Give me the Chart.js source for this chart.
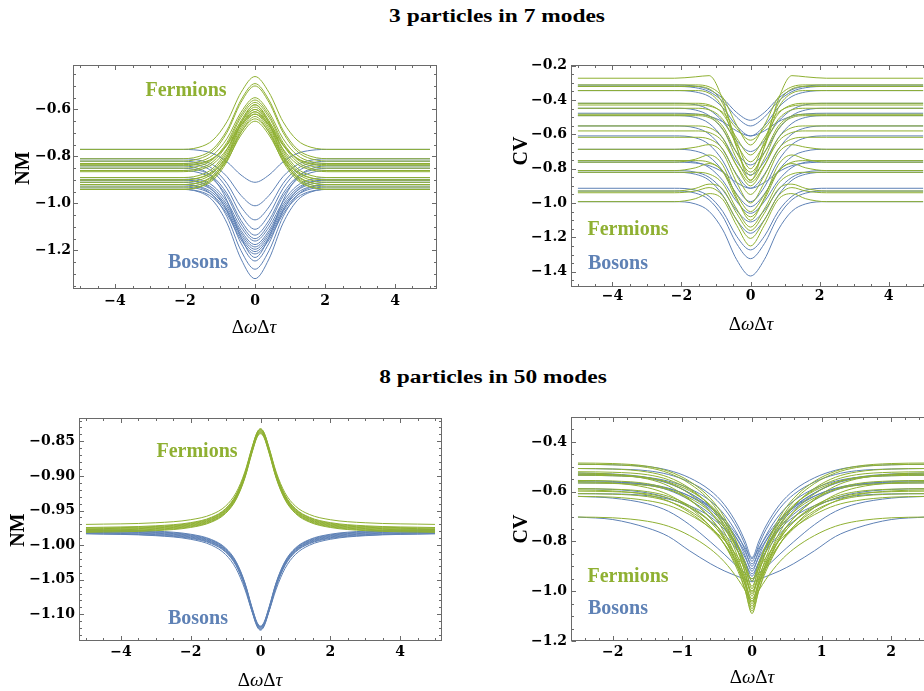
<!DOCTYPE html>
<html><head><meta charset="utf-8">
<script src="https://cdn.jsdelivr.net/npm/chart.js@4.4.0/dist/chart.umd.min.js"></script>
<style>
html,body{margin:0;padding:0;background:#fff;}
body{width:924px;height:691px;position:relative;overflow:hidden;}
canvas{position:absolute;}
.t{position:absolute;white-space:nowrap;line-height:1;font-family:"Liberation Serif","Times New Roman",serif;transform:translate(-50%,-50%);}
.b{font-weight:bold;}
.rot{transform:translate(-50%,-50%) rotate(-90deg);}
.ttl{font-size:18px;transform:translate(-50%,-50%) scaleX(1.3);}
.ax{font-size:19px;}
.fe{color:#8fb032;font-size:20px;font-weight:bold;}
.bo{color:#5e81b5;font-size:20px;font-weight:bold;}
</style></head>
<body>
<canvas id="c1" width="450" height="270" style="left:0px;top:50px"></canvas>
<canvas id="c2" width="440" height="270" style="left:500px;top:50px"></canvas>
<canvas id="c3" width="455" height="270" style="left:0px;top:400px"></canvas>
<canvas id="c4" width="445" height="270" style="left:500px;top:400px"></canvas>

<div class="t b ttl" style="left:497px;top:16px">3 particles in 7 modes</div>
<div class="t b ttl" style="left:493px;top:377px">8 particles in 50 modes</div>

<div class="t b ax rot" style="left:22px;top:168px;font-size:20px">NM</div>
<div class="t ax" style="left:254px;top:326px">Δ<i>ω</i>Δ<i>τ</i></div>
<div class="t b ax rot" style="left:520px;top:151px;font-size:20px">CV</div>
<div class="t ax" style="left:751px;top:323px">Δ<i>ω</i>Δ<i>τ</i></div>
<div class="t b ax rot" style="left:17px;top:530px;font-size:20px">NM</div>
<div class="t ax" style="left:260px;top:679px">Δ<i>ω</i>Δ<i>τ</i></div>
<div class="t b ax rot" style="left:520px;top:529px;font-size:20px">CV</div>
<div class="t ax" style="left:752px;top:676px">Δ<i>ω</i>Δ<i>τ</i></div>

<div class="t fe" style="left:186px;top:89px">Fermions</div>
<div class="t bo" style="left:198px;top:261px">Bosons</div>
<div class="t fe" style="left:628px;top:228px">Fermions</div>
<div class="t bo" style="left:618px;top:262px">Bosons</div>
<div class="t fe" style="left:197px;top:450px">Fermions</div>
<div class="t bo" style="left:198px;top:617px">Bosons</div>
<div class="t fe" style="left:628px;top:575px">Fermions</div>
<div class="t bo" style="left:618px;top:607px">Bosons</div>

<script>
// ---------- Panel 1: NM, 3 particles in 7 modes ----------
const p1X = [-5,-2.2,-1.6,-1.2,-0.8,-0.4,0,0.4,0.8,1.2,1.6,2.2,5];
const p1Fermions = [
 [-0.77,-0.77,-0.761,-0.73,-0.652,-0.528,-0.46,-0.528,-0.652,-0.73,-0.761,-0.77,-0.77],
 [-0.81,-0.81,-0.8,-0.768,-0.688,-0.56,-0.49,-0.56,-0.688,-0.768,-0.8,-0.81,-0.81],
 [-0.82,-0.82,-0.81,-0.778,-0.698,-0.57,-0.5,-0.57,-0.698,-0.778,-0.81,-0.82,-0.82],
 [-0.83,-0.83,-0.822,-0.794,-0.724,-0.612,-0.55,-0.612,-0.724,-0.794,-0.822,-0.83,-0.83],
 [-0.85,-0.85,-0.841,-0.812,-0.74,-0.624,-0.56,-0.624,-0.74,-0.812,-0.841,-0.85,-0.85],
 [-0.86,-0.86,-0.851,-0.822,-0.75,-0.634,-0.57,-0.634,-0.75,-0.822,-0.851,-0.86,-0.86],
 [-0.89,-0.89,-0.881,-0.85,-0.772,-0.648,-0.58,-0.648,-0.772,-0.85,-0.881,-0.89,-0.89],
 [-0.9,-0.9,-0.891,-0.86,-0.782,-0.658,-0.59,-0.658,-0.782,-0.86,-0.891,-0.9,-0.9],
 [-0.91,-0.91,-0.901,-0.87,-0.792,-0.668,-0.6,-0.668,-0.792,-0.87,-0.901,-0.91,-0.91],
 [-0.92,-0.92,-0.911,-0.88,-0.802,-0.678,-0.61,-0.678,-0.802,-0.88,-0.911,-0.92,-0.92],
 [-0.93,-0.93,-0.921,-0.89,-0.812,-0.688,-0.62,-0.688,-0.812,-0.89,-0.921,-0.93,-0.93],
 [-0.94,-0.94,-0.931,-0.9,-0.822,-0.698,-0.63,-0.698,-0.822,-0.9,-0.931,-0.94,-0.94],
 [-0.9,-0.9,-0.892,-0.866,-0.801,-0.697,-0.64,-0.697,-0.801,-0.866,-0.892,-0.9,-0.9],
 [-0.92,-0.92,-0.912,-0.885,-0.817,-0.709,-0.65,-0.709,-0.817,-0.885,-0.912,-0.92,-0.92],
 [-0.84,-0.84,-0.833,-0.809,-0.749,-0.653,-0.6,-0.653,-0.749,-0.809,-0.833,-0.84,-0.84],
 [-0.94,-0.94,-0.929,-0.893,-0.803,-0.659,-0.58,-0.659,-0.803,-0.893,-0.929,-0.94,-0.94],
 [-0.835,-0.835,-0.829,-0.807,-0.753,-0.667,-0.62,-0.667,-0.753,-0.807,-0.829,-0.835,-0.835],
 [-0.865,-0.865,-0.857,-0.832,-0.768,-0.666,-0.61,-0.666,-0.768,-0.832,-0.857,-0.865,-0.865]
];
const p1Bosons = [
 [-0.77,-0.77,-0.774,-0.788,-0.823,-0.879,-0.91,-0.879,-0.823,-0.788,-0.774,-0.77,-0.77],
 [-0.81,-0.81,-0.816,-0.836,-0.886,-0.966,-1.01,-0.966,-0.886,-0.836,-0.816,-0.81,-0.81],
 [-0.82,-0.82,-0.828,-0.853,-0.915,-1.015,-1.07,-1.015,-0.915,-0.853,-0.828,-0.82,-0.82],
 [-0.83,-0.83,-0.838,-0.866,-0.936,-1.048,-1.11,-1.048,-0.936,-0.866,-0.838,-0.83,-0.83],
 [-0.85,-0.85,-0.859,-0.887,-0.958,-1.072,-1.135,-1.072,-0.958,-0.887,-0.859,-0.85,-0.85],
 [-0.86,-0.86,-0.869,-0.898,-0.97,-1.086,-1.15,-1.086,-0.97,-0.898,-0.869,-0.86,-0.86],
 [-0.89,-0.89,-0.898,-0.925,-0.993,-1.101,-1.16,-1.101,-0.993,-0.925,-0.898,-0.89,-0.89],
 [-0.9,-0.9,-0.908,-0.936,-1.005,-1.115,-1.175,-1.115,-1.005,-0.936,-0.908,-0.9,-0.9],
 [-0.91,-0.91,-0.918,-0.946,-1.015,-1.125,-1.185,-1.125,-1.015,-0.946,-0.918,-0.91,-0.91],
 [-0.92,-0.92,-0.928,-0.956,-1.025,-1.135,-1.195,-1.135,-1.025,-0.956,-0.928,-0.92,-0.92],
 [-0.93,-0.93,-0.938,-0.966,-1.035,-1.145,-1.205,-1.145,-1.035,-0.966,-0.938,-0.93,-0.93],
 [-0.94,-0.94,-0.948,-0.976,-1.045,-1.155,-1.215,-1.155,-1.045,-0.976,-0.948,-0.94,-0.94],
 [-0.84,-0.84,-0.852,-0.891,-0.988,-1.144,-1.23,-1.144,-0.988,-0.891,-0.852,-0.84,-0.84],
 [-0.9,-0.9,-0.91,-0.945,-1.031,-1.169,-1.245,-1.169,-1.031,-0.945,-0.91,-0.9,-0.9],
 [-0.92,-0.92,-0.931,-0.967,-1.057,-1.201,-1.28,-1.201,-1.057,-0.967,-0.931,-0.92,-0.92],
 [-0.94,-0.94,-0.951,-0.989,-1.084,-1.236,-1.32,-1.236,-1.084,-0.989,-0.951,-0.94,-0.94]
];
const p1XTicks = [-4,-2,0,2,4];
const p1YTicks = [-1.2,-1.0,-0.8,-0.6];

// ---------- Panel 2: CV, 3 particles in 7 modes ----------
const p2X = [-5,-2.2,-1.6,-1.2,-0.8,-0.4,0,0.4,0.8,1.2,1.6,2.2,5];
const p2Fermions = [
 [-0.273,-0.273,-0.265,-0.258,-0.4,-0.67,-0.87,-0.67,-0.4,-0.258,-0.265,-0.273,-0.273],
 [-0.321,-0.321,-0.321,-0.335,-0.422,-0.642,-0.8,-0.642,-0.422,-0.335,-0.321,-0.321,-0.321],
 [-0.429,-0.429,-0.429,-0.435,-0.472,-0.566,-0.634,-0.566,-0.472,-0.435,-0.429,-0.429,-0.429],
 [-0.419,-0.419,-0.419,-0.428,-0.482,-0.621,-0.72,-0.621,-0.482,-0.428,-0.419,-0.419,-0.419],
 [-0.448,-0.448,-0.448,-0.457,-0.514,-0.657,-0.76,-0.657,-0.514,-0.457,-0.448,-0.448,-0.448],
 [-0.483,-0.483,-0.483,-0.493,-0.554,-0.709,-0.82,-0.709,-0.554,-0.493,-0.483,-0.483,-0.483],
 [-0.491,-0.491,-0.491,-0.502,-0.57,-0.742,-0.866,-0.742,-0.57,-0.502,-0.491,-0.491,-0.491],
 [-0.551,-0.551,-0.551,-0.561,-0.624,-0.785,-0.9,-0.785,-0.624,-0.561,-0.551,-0.551,-0.551],
 [-0.617,-0.617,-0.617,-0.627,-0.687,-0.84,-0.95,-0.84,-0.687,-0.627,-0.617,-0.617,-0.617],
 [-0.687,-0.687,-0.675,-0.66,-0.71,-0.88,-1.0,-0.88,-0.71,-0.66,-0.675,-0.687,-0.687],
 [-0.753,-0.753,-0.753,-0.762,-0.815,-0.952,-1.05,-0.952,-0.815,-0.762,-0.753,-0.753,-0.753],
 [-0.762,-0.762,-0.745,-0.72,-0.78,-0.97,-1.1,-0.97,-0.78,-0.72,-0.745,-0.762,-0.762],
 [-0.821,-0.821,-0.821,-0.831,-0.888,-1.035,-1.14,-1.035,-0.888,-0.831,-0.821,-0.821,-0.821],
 [-0.93,-0.93,-0.915,-0.89,-0.92,-1.06,-1.16,-1.06,-0.92,-0.89,-0.915,-0.93,-0.93],
 [-0.94,-0.94,-0.93,-0.91,-0.96,-1.1,-1.206,-1.1,-0.96,-0.91,-0.93,-0.94,-0.94],
 [-0.992,-0.992,-0.975,-0.945,-0.98,-1.13,-1.25,-1.13,-0.98,-0.945,-0.975,-0.992,-0.992],
 [-0.58,-0.58,-0.58,-0.589,-0.643,-0.781,-0.88,-0.781,-0.643,-0.589,-0.58,-0.58,-0.58],
 [-0.345,-0.345,-0.345,-0.36,-0.449,-0.677,-0.84,-0.677,-0.449,-0.36,-0.345,-0.345,-0.345],
 [-0.312,-0.312,-0.312,-0.323,-0.386,-0.547,-0.662,-0.547,-0.386,-0.323,-0.312,-0.312,-0.312],
 [-0.811,-0.811,-0.795,-0.77,-0.82,-0.98,-1.08,-0.98,-0.82,-0.77,-0.795,-0.811,-0.811]
];
const p2Bosons = [
 [-0.313,-0.313,-0.319,-0.34,-0.391,-0.473,-0.518,-0.473,-0.391,-0.34,-0.319,-0.313,-0.313],
 [-0.321,-0.321,-0.328,-0.351,-0.408,-0.5,-0.551,-0.5,-0.408,-0.351,-0.328,-0.321,-0.321],
 [-0.345,-0.345,-0.353,-0.379,-0.445,-0.551,-0.609,-0.551,-0.445,-0.379,-0.353,-0.345,-0.345],
 [-0.419,-0.419,-0.427,-0.456,-0.526,-0.638,-0.7,-0.638,-0.526,-0.456,-0.427,-0.419,-0.419],
 [-0.448,-0.448,-0.458,-0.491,-0.573,-0.705,-0.778,-0.705,-0.573,-0.491,-0.458,-0.448,-0.448],
 [-0.491,-0.491,-0.501,-0.536,-0.622,-0.76,-0.836,-0.76,-0.622,-0.536,-0.501,-0.491,-0.491],
 [-0.551,-0.551,-0.562,-0.598,-0.689,-0.834,-0.914,-0.834,-0.689,-0.598,-0.562,-0.551,-0.551],
 [-0.609,-0.609,-0.62,-0.659,-0.755,-0.908,-0.992,-0.908,-0.755,-0.659,-0.62,-0.609,-0.609],
 [-0.687,-0.687,-0.697,-0.73,-0.814,-0.948,-1.021,-0.948,-0.814,-0.73,-0.697,-0.687,-0.687],
 [-0.753,-0.753,-0.762,-0.793,-0.87,-0.992,-1.06,-0.992,-0.87,-0.793,-0.762,-0.753,-0.753],
 [-0.811,-0.811,-0.82,-0.85,-0.925,-1.044,-1.11,-1.044,-0.925,-0.85,-0.82,-0.811,-0.811],
 [-0.821,-0.821,-0.832,-0.867,-0.956,-1.098,-1.176,-1.098,-0.956,-0.867,-0.832,-0.821,-0.821],
 [-0.914,-0.914,-0.925,-0.961,-1.05,-1.194,-1.273,-1.194,-1.05,-0.961,-0.925,-0.914,-0.914],
 [-0.93,-0.93,-0.942,-0.981,-1.08,-1.237,-1.324,-1.237,-1.08,-0.981,-0.942,-0.93,-0.93],
 [-0.992,-0.992,-1.005,-1.048,-1.157,-1.33,-1.425,-1.33,-1.157,-1.048,-1.005,-0.992,-0.992],
 [-0.477,-0.477,-0.481,-0.494,-0.527,-0.58,-0.609,-0.58,-0.527,-0.494,-0.481,-0.477,-0.477],
 [-0.762,-0.762,-0.767,-0.782,-0.82,-0.881,-0.914,-0.881,-0.82,-0.782,-0.767,-0.762,-0.762]
];
const p2XTicks = [-4,-2,0,2,4];
const p2YTicks = [-1.4,-1.2,-1.0,-0.8,-0.6,-0.4,-0.2];

// ---------- Panel 3: NM, 8 particles in 50 modes ----------
const p3X = [-5,-3,-2,-1.4,-1,-0.7,-0.45,-0.25,-0.1,0,0.1,0.25,0.45,0.7,1,1.4,2,3,5];
const p3Fermions = [
 [-0.9701,-0.9677,-0.9633,-0.9557,-0.9436,-0.9243,-0.8945,-0.8599,-0.8373,-0.832,-0.8373,-0.8599,-0.8945,-0.9243,-0.9436,-0.9557,-0.9633,-0.9677,-0.9701],
 [-0.9746,-0.9721,-0.9675,-0.9597,-0.9472,-0.9273,-0.8965,-0.8608,-0.8375,-0.832,-0.8375,-0.8608,-0.8965,-0.9273,-0.9472,-0.9597,-0.9675,-0.9721,-0.9746],
 [-0.9756,-0.9731,-0.9685,-0.9607,-0.9482,-0.9283,-0.8975,-0.8618,-0.8385,-0.833,-0.8385,-0.8618,-0.8975,-0.9283,-0.9482,-0.9607,-0.9685,-0.9731,-0.9756],
 [-0.9766,-0.9741,-0.9695,-0.9617,-0.9492,-0.9293,-0.8985,-0.8628,-0.8395,-0.834,-0.8395,-0.8628,-0.8985,-0.9293,-0.9492,-0.9617,-0.9695,-0.9741,-0.9766],
 [-0.9776,-0.9751,-0.9705,-0.9627,-0.9502,-0.9303,-0.8995,-0.8638,-0.8405,-0.835,-0.8405,-0.8638,-0.8995,-0.9303,-0.9502,-0.9627,-0.9705,-0.9751,-0.9776],
 [-0.9786,-0.9761,-0.9715,-0.9637,-0.9512,-0.9313,-0.9005,-0.8648,-0.8415,-0.836,-0.8415,-0.8648,-0.9005,-0.9313,-0.9512,-0.9637,-0.9715,-0.9761,-0.9786],
 [-0.9796,-0.9771,-0.9725,-0.9647,-0.9522,-0.9323,-0.9015,-0.8658,-0.8425,-0.837,-0.8425,-0.8658,-0.9015,-0.9323,-0.9522,-0.9647,-0.9725,-0.9771,-0.9796],
 [-0.9806,-0.9781,-0.9735,-0.9657,-0.9532,-0.9333,-0.9025,-0.8668,-0.8435,-0.838,-0.8435,-0.8668,-0.9025,-0.9333,-0.9532,-0.9657,-0.9735,-0.9781,-0.9806],
 [-0.9816,-0.9791,-0.9745,-0.9667,-0.9542,-0.9343,-0.9035,-0.8678,-0.8445,-0.839,-0.8445,-0.8678,-0.9035,-0.9343,-0.9542,-0.9667,-0.9745,-0.9791,-0.9816]
];
const p3Bosons = [
 [-0.9774,-0.9798,-0.9843,-0.992,-1.0042,-1.0237,-1.0538,-1.0888,-1.1116,-1.117,-1.1116,-1.0888,-1.0538,-1.0237,-1.0042,-0.992,-0.9843,-0.9798,-0.9774],
 [-0.9784,-0.9808,-0.9853,-0.993,-1.0052,-1.0247,-1.0548,-1.0898,-1.1126,-1.118,-1.1126,-1.0898,-1.0548,-1.0247,-1.0052,-0.993,-0.9853,-0.9808,-0.9784],
 [-0.9794,-0.9818,-0.9863,-0.994,-1.0062,-1.0257,-1.0558,-1.0908,-1.1136,-1.119,-1.1136,-1.0908,-1.0558,-1.0257,-1.0062,-0.994,-0.9863,-0.9818,-0.9794],
 [-0.9804,-0.9828,-0.9873,-0.995,-1.0072,-1.0267,-1.0568,-1.0918,-1.1146,-1.12,-1.1146,-1.0918,-1.0568,-1.0267,-1.0072,-0.995,-0.9873,-0.9828,-0.9804],
 [-0.9814,-0.9838,-0.9883,-0.996,-1.0082,-1.0277,-1.0578,-1.0928,-1.1156,-1.121,-1.1156,-1.0928,-1.0578,-1.0277,-1.0082,-0.996,-0.9883,-0.9838,-0.9814],
 [-0.9824,-0.9848,-0.9893,-0.997,-1.0092,-1.0287,-1.0588,-1.0938,-1.1166,-1.122,-1.1166,-1.0938,-1.0588,-1.0287,-1.0092,-0.997,-0.9893,-0.9848,-0.9824],
 [-0.9834,-0.9858,-0.9903,-0.998,-1.0102,-1.0297,-1.0598,-1.0948,-1.1176,-1.123,-1.1176,-1.0948,-1.0598,-1.0297,-1.0102,-0.998,-0.9903,-0.9858,-0.9834],
 [-0.9836,-0.9864,-0.9916,-1.0002,-1.0136,-1.034,-1.0635,-1.0947,-1.1136,-1.118,-1.1136,-1.0947,-1.0635,-1.034,-1.0136,-1.0002,-0.9916,-0.9864,-0.9836]
];
const p3XTicks = [-4,-2,0,2,4];
const p3YTicks = [-1.10,-1.05,-1.00,-0.95,-0.90,-0.85];

// ---------- Panel 4: CV, 8 particles in 50 modes ----------
const p4X = [-2.5,-2,-1.5,-1.2,-0.9,-0.6,-0.4,-0.2,-0.1,0,0.1,0.2,0.4,0.6,0.9,1.2,1.5,2,2.5];
const p4Fermions = [
 [-0.485,-0.487,-0.498,-0.518,-0.558,-0.626,-0.702,-0.818,-0.899,-0.99,-0.899,-0.818,-0.702,-0.626,-0.558,-0.518,-0.498,-0.487,-0.485],
 [-0.49,-0.492,-0.503,-0.525,-0.567,-0.638,-0.718,-0.84,-0.925,-1.02,-0.925,-0.84,-0.718,-0.638,-0.567,-0.525,-0.503,-0.492,-0.49],
 [-0.507,-0.509,-0.521,-0.542,-0.586,-0.659,-0.741,-0.865,-0.952,-1.05,-0.952,-0.865,-0.741,-0.659,-0.586,-0.542,-0.521,-0.509,-0.507],
 [-0.525,-0.53,-0.549,-0.577,-0.63,-0.706,-0.777,-0.877,-0.938,-1.0,-0.938,-0.877,-0.777,-0.706,-0.63,-0.577,-0.549,-0.53,-0.525],
 [-0.53,-0.532,-0.544,-0.565,-0.608,-0.681,-0.762,-0.886,-0.973,-1.07,-0.973,-0.886,-0.762,-0.681,-0.608,-0.565,-0.544,-0.532,-0.53],
 [-0.534,-0.536,-0.545,-0.562,-0.596,-0.653,-0.717,-0.815,-0.883,-0.96,-0.883,-0.815,-0.717,-0.653,-0.596,-0.562,-0.545,-0.536,-0.534],
 [-0.555,-0.557,-0.568,-0.59,-0.633,-0.705,-0.785,-0.908,-0.994,-1.09,-0.994,-0.908,-0.785,-0.705,-0.633,-0.59,-0.568,-0.557,-0.555],
 [-0.56,-0.565,-0.584,-0.612,-0.663,-0.739,-0.809,-0.908,-0.969,-1.03,-0.969,-0.908,-0.809,-0.739,-0.663,-0.612,-0.584,-0.565,-0.56],
 [-0.565,-0.567,-0.575,-0.592,-0.625,-0.681,-0.744,-0.839,-0.905,-0.98,-0.905,-0.839,-0.744,-0.681,-0.625,-0.592,-0.575,-0.567,-0.565],
 [-0.588,-0.59,-0.6,-0.619,-0.656,-0.72,-0.791,-0.9,-0.975,-1.06,-0.975,-0.9,-0.791,-0.72,-0.656,-0.619,-0.6,-0.59,-0.588],
 [-0.593,-0.597,-0.613,-0.638,-0.683,-0.748,-0.809,-0.894,-0.947,-1.0,-0.947,-0.894,-0.809,-0.748,-0.683,-0.638,-0.613,-0.597,-0.593],
 [-0.608,-0.61,-0.62,-0.639,-0.676,-0.74,-0.811,-0.92,-0.995,-1.08,-0.995,-0.92,-0.811,-0.74,-0.676,-0.639,-0.62,-0.61,-0.608],
 [-0.619,-0.622,-0.636,-0.655,-0.692,-0.745,-0.794,-0.864,-0.907,-0.95,-0.907,-0.864,-0.794,-0.745,-0.692,-0.655,-0.636,-0.622,-0.619],
 [-0.702,-0.705,-0.719,-0.739,-0.776,-0.83,-0.881,-0.952,-0.996,-1.04,-0.996,-0.952,-0.881,-0.83,-0.776,-0.739,-0.719,-0.705,-0.702],
 [-0.52,-0.522,-0.532,-0.552,-0.591,-0.657,-0.731,-0.843,-0.922,-1.01,-0.922,-0.843,-0.731,-0.657,-0.591,-0.552,-0.532,-0.522,-0.52],
 [-0.598,-0.6,-0.609,-0.627,-0.662,-0.722,-0.788,-0.89,-0.96,-1.04,-0.96,-0.89,-0.788,-0.722,-0.662,-0.627,-0.609,-0.6,-0.598]
];
const p4Bosons = [
 [-0.49,-0.492,-0.499,-0.514,-0.544,-0.595,-0.651,-0.738,-0.798,-0.865,-0.798,-0.738,-0.651,-0.595,-0.544,-0.514,-0.499,-0.492,-0.49],
 [-0.507,-0.509,-0.516,-0.531,-0.561,-0.611,-0.667,-0.753,-0.813,-0.88,-0.813,-0.753,-0.667,-0.611,-0.561,-0.531,-0.516,-0.509,-0.507],
 [-0.525,-0.529,-0.543,-0.565,-0.605,-0.664,-0.719,-0.795,-0.843,-0.89,-0.843,-0.795,-0.719,-0.664,-0.605,-0.565,-0.543,-0.529,-0.525],
 [-0.534,-0.536,-0.543,-0.558,-0.587,-0.637,-0.691,-0.776,-0.834,-0.9,-0.834,-0.776,-0.691,-0.637,-0.587,-0.558,-0.543,-0.536,-0.534],
 [-0.555,-0.559,-0.573,-0.594,-0.633,-0.69,-0.743,-0.818,-0.864,-0.91,-0.864,-0.818,-0.743,-0.69,-0.633,-0.594,-0.573,-0.559,-0.555],
 [-0.565,-0.566,-0.574,-0.588,-0.617,-0.664,-0.718,-0.799,-0.856,-0.92,-0.856,-0.799,-0.718,-0.664,-0.617,-0.588,-0.574,-0.566,-0.565],
 [-0.588,-0.591,-0.605,-0.626,-0.663,-0.718,-0.769,-0.841,-0.886,-0.93,-0.886,-0.841,-0.769,-0.718,-0.663,-0.626,-0.605,-0.591,-0.588],
 [-0.608,-0.609,-0.616,-0.63,-0.656,-0.701,-0.751,-0.827,-0.88,-0.94,-0.88,-0.827,-0.751,-0.701,-0.656,-0.63,-0.616,-0.609,-0.608],
 [-0.619,-0.626,-0.649,-0.679,-0.732,-0.801,-0.851,-0.904,-0.927,-0.95,-0.927,-0.904,-0.851,-0.801,-0.732,-0.679,-0.649,-0.626,-0.619],
 [-0.702,-0.712,-0.746,-0.78,-0.837,-0.889,-0.918,-0.941,-0.952,-0.962,-0.952,-0.941,-0.918,-0.889,-0.837,-0.78,-0.746,-0.712,-0.702],
 [-0.53,-0.533,-0.547,-0.567,-0.605,-0.659,-0.71,-0.782,-0.826,-0.87,-0.826,-0.782,-0.71,-0.659,-0.605,-0.567,-0.547,-0.533,-0.53],
 [-0.56,-0.562,-0.57,-0.586,-0.618,-0.672,-0.732,-0.824,-0.888,-0.96,-0.888,-0.824,-0.732,-0.672,-0.618,-0.586,-0.57,-0.562,-0.56]
];
const p4XTicks = [-2,-1,0,1,2];
const p4YTicks = [-1.2,-1.0,-0.8,-0.6,-0.4];

// ---------- drawing ----------
const GREEN = '#8fb032', BLUE = '#5e81b5', FRAME = '#6a6a6a';

function fmt(v, d) {
  if (Math.abs(v) < 1e-9) return '0';
  const s = Math.abs(v).toFixed(d);
  return v < 0 ? '\u2212' + s : s;
}

const frameTicks = {
  id: 'frameTicks',
  afterDatasetsDraw(chart, args, o) {
    const {ctx, chartArea: a, scales: {x, y}} = chart;
    const L = Math.round(a.left) + 0.5, R = Math.round(a.right) - 0.5;
    const T = Math.round(a.top) + 0.5, B = Math.round(a.bottom) - 0.5;
    ctx.save();
    ctx.strokeStyle = FRAME; ctx.lineWidth = 1;
    ctx.beginPath();
    const isMajor = (v, arr) => arr.some(m => Math.abs(m - v) < 1e-7);
    const kx0 = Math.ceil(x.min / o.xMinor - 1e-9), kx1 = Math.floor(x.max / o.xMinor + 1e-9);
    for (let k = kx0; k <= kx1; k++) {
      const v = k * o.xMinor;
      const len = isMajor(v, o.xMajor) ? 4.5 : 2.5;
      const px = Math.round(x.getPixelForValue(v)) + 0.5;
      ctx.moveTo(px, B); ctx.lineTo(px, B - len);
      ctx.moveTo(px, T); ctx.lineTo(px, T + len);
    }
    const ky0 = Math.ceil(y.min / o.yMinor - 1e-9), ky1 = Math.floor(y.max / o.yMinor + 1e-9);
    for (let k = ky0; k <= ky1; k++) {
      const v = k * o.yMinor;
      const len = isMajor(v, o.yMajor) ? 4.5 : 2.5;
      const py = Math.round(y.getPixelForValue(v)) + 0.5;
      ctx.moveTo(L, py); ctx.lineTo(L + len, py);
      ctx.moveTo(R, py); ctx.lineTo(R - len, py);
    }
    ctx.stroke();
    ctx.strokeRect(L, T, R - L, B - T);
    ctx.restore();
  }
};

function makePanel(id, p) {
  const mk = (row, color) => ({
    data: p.xs.map((xv, i) => ({x: xv, y: row[i]})),
    borderColor: color, borderWidth: 1, pointRadius: 0, fill: false,
    cubicInterpolationMode: 'monotone'
  });
  const datasets = p.fermions.map(r => mk(r, GREEN)).concat(p.bosons.map(r => mk(r, BLUE)));
  const tickFont = {family: 'DejaVu Serif', weight: 'bold', size: 14};
  new Chart(document.getElementById(id), {
    type: 'line',
    data: {datasets},
    plugins: [frameTicks],
    options: {
      responsive: false, animation: false, events: [],
      layout: {padding: {top: p.padTop, right: p.padRight, left: 0, bottom: 0}},
      plugins: {
        legend: {display: false}, tooltip: {enabled: false},
        frameTicks: {xMajor: p.xTicks, yMajor: p.yTicks, xMinor: p.xMinor, yMinor: p.yMinor}
      },
      scales: {
        x: {
          type: 'linear', min: p.xMin, max: p.xMax,
          grid: {display: false, drawTicks: false}, border: {display: false},
          ticks: {font: tickFont, color: '#000', padding: p.xPad, autoSkip: false, maxRotation: 0,
                  callback: v => fmt(v, 0)},
          afterBuildTicks: s => { s.ticks = p.xTicks.map(v => ({value: v})); },
          afterFit: s => { s.height = p.xH; }
        },
        y: {
          type: 'linear', min: p.yMin, max: p.yMax,
          grid: {display: false, drawTicks: false}, border: {display: false},
          ticks: {font: tickFont, color: '#000', padding: p.yPad, autoSkip: false,
                  callback: v => fmt(v, p.yDec)},
          afterBuildTicks: s => { s.ticks = p.yTicks.map(v => ({value: v})); },
          afterFit: s => { s.width = p.yW; }
        }
      }
    }
  });
}

makePanel('c1', {xs: p1X, fermions: p1Fermions, bosons: p1Bosons, xTicks: p1XTicks, yTicks: p1YTicks,
  xMin: -5.2, xMax: 5.2, yMin: -1.364, yMax: -0.411, xMinor: 0.5, yMinor: 0.05, yDec: 1,
  padTop: 15, padRight: 13, yW: 73, xH: 31, xPad: 4, yPad: 2});
makePanel('c2', {xs: p2X, fermions: p2Fermions, bosons: p2Bosons, xTicks: p2XTicks, yTicks: p2YTicks,
  xMin: -5.2, xMax: 5.2, yMin: -1.489, yMax: -0.196, xMinor: 0.5, yMinor: 0.05, yDec: 1,
  padTop: 15, padRight: 10, yW: 71, xH: 33, xPad: 1, yPad: 4});
makePanel('c3', {xs: p3X, fermions: p3Fermions, bosons: p3Bosons, xTicks: p3XTicks, yTicks: p3YTicks,
  xMin: -5.2, xMax: 5.2, yMin: -1.1386, yMax: -0.8163, xMinor: 0.5, yMinor: 0.01, yDec: 2,
  padTop: 18, padRight: 13, yW: 79, xH: 29, xPad: 3, yPad: 4});
makePanel('c4', {xs: p4X, fermions: p4Fermions, bosons: p4Bosons, xTicks: p4XTicks, yTicks: p4YTicks,
  xMin: -2.6, xMax: 2.6, yMin: -1.2, yMax: -0.3, xMinor: 0.2, yMinor: 0.05, yDec: 1,
  padTop: 17, padRight: 12, yW: 71, xH: 29, xPad: 3, yPad: 4});
</script>
</body></html>
